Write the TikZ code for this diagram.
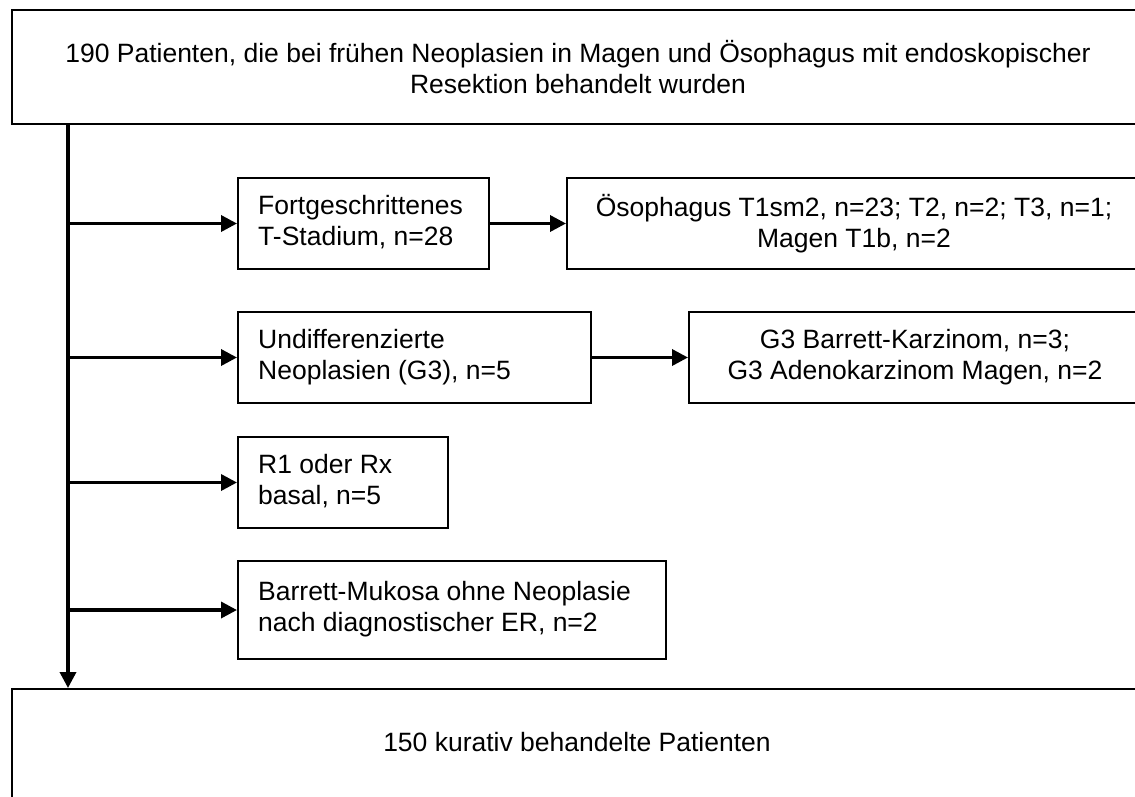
\documentclass[tikz,border=0pt]{standalone}
\usepackage{fontspec}
\setmainfont{Liberation Sans}
\usetikzlibrary{arrows.meta}
\newcommand\fsz{\fontsize{26.5}{31}\selectfont}
\tikzset{
  box/.style={draw, line width=2pt, inner sep=0pt, anchor=north west, minimum height=91pt, font=\fsz, align=center},
  txt/.style={align=left, anchor=west, inner sep=0pt, font=\fsz},
  conn/.style={line width=3.5pt, -{Triangle[length=16pt,width=16pt]}},
}
\begin{document}
\begin{tikzpicture}[x=1pt,y=-1pt]
\useasboundingbox (0,0) rectangle (1135,796);
\clip (0,0) rectangle (1135,796);
\fill[white] (0,0) rectangle (1135,796);
% top box
\node[box, minimum width=1132pt, minimum height=114pt] (top) at (11,9)
  {190 Patienten, die bei frühen Neoplasien in Magen und Ösophagus mit endoskopischer\\Resektion behandelt wurden};
% left column boxes
\node[box, minimum width=251pt] (b1) at (237,177) {};
\node[txt] (t1) at (258,222) {Fortgeschrittenes\\T-Stadium, n=28};
\node[box, minimum width=353pt] (b2) at (237,311) {};
\node[txt] (t2) at (258,357) {Undifferenzierte\\Neoplasien (G3), n=5};
\node[box, minimum width=210pt] (b3) at (237,436) {};
\node[txt] (t3) at (258,481) {R1 oder Rx\\basal, n=5};
\node[box, minimum width=428pt, minimum height=98pt] (b4) at (237,560) {};
\node[txt] (t4) at (258,609) {Barrett-Mukosa ohne Neoplasie\\nach diagnostischer ER, n=2};
% right boxes
\node[box, minimum width=574pt] (r1) at (566,177)
  {Ösophagus T1sm2, n=23; T2, n=2; T3, n=1;\\Magen T1b, n=2};
\node[box, minimum width=452pt] (r2) at (688,311)
  {G3 Barrett-Karzinom, n=3;\\G3 Adenokarzinom Magen, n=2};
% bottom box
\node[box, minimum width=1132pt, minimum height=140pt] (bot) at (11,688) {};
\node[txt, anchor=center] (t6) at (577,742) {150 kurativ behandelte Patienten};
% connectors
\coordinate (v) at (68,0);
\draw[conn] (v |- top.south) -- (v |- bot.north);
\draw[conn] (v |- b1.west) -- (b1.west);
\draw[conn] (v |- b2.west) -- (b2.west);
\draw[conn] (v |- b3.west) -- (b3.west);
\draw[conn] (v |- b4.west) -- (b4.west);
\draw[conn] (b1.east) -- (r1.west);
\draw[conn] (b2.east) -- (r2.west |- b2.east);
\end{tikzpicture}
\end{document}
